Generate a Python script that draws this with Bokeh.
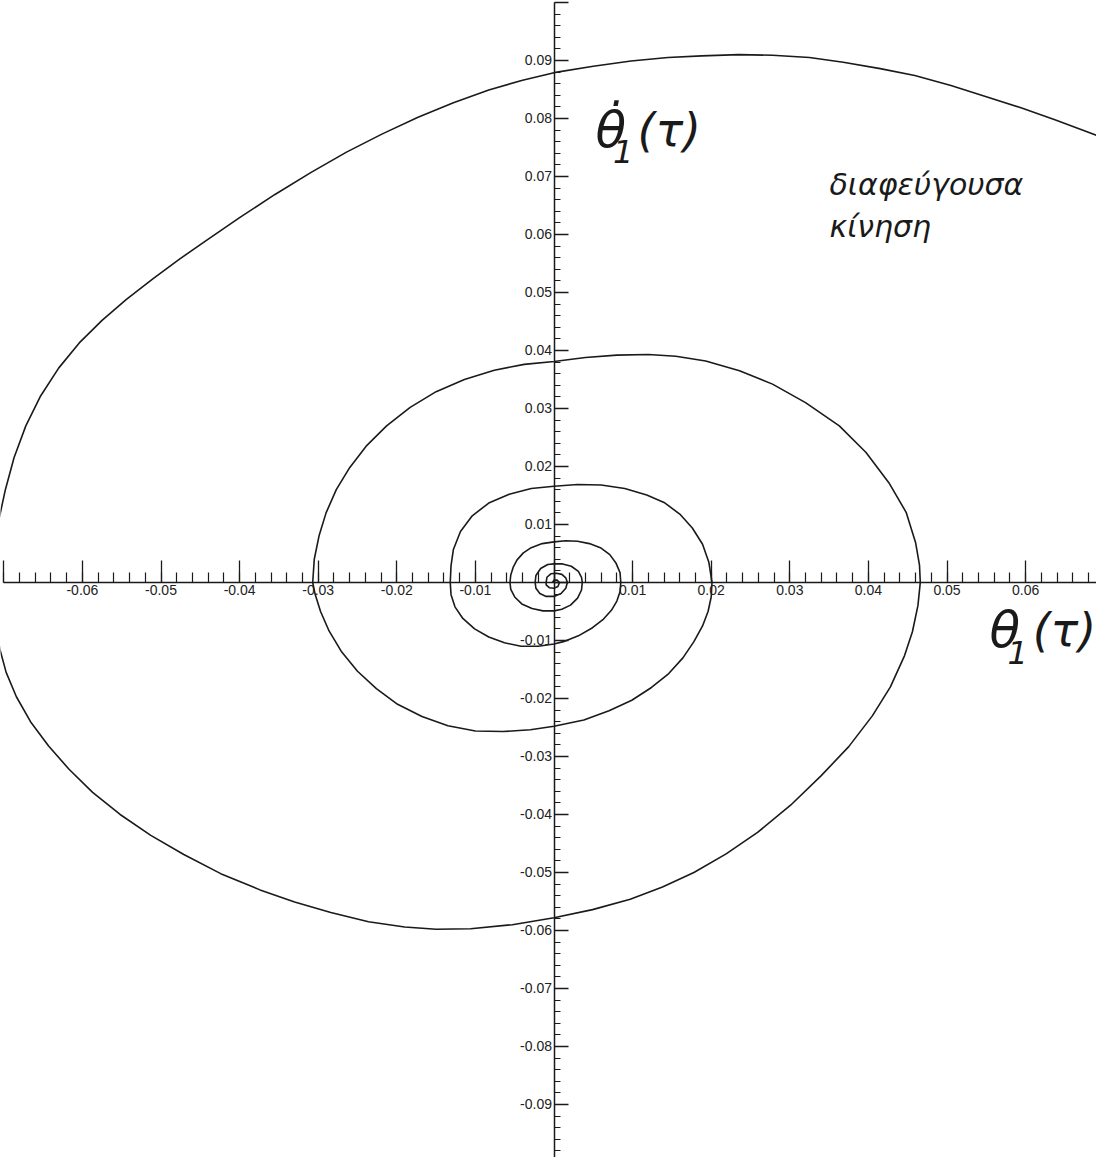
from bokeh.plotting import figure
from bokeh.models import LinearAxis, FixedTicker, CustomJSTickFormatter, Range1d, ColumnDataSource
from bokeh.core.properties import value
from bokeh.embed import file_html
from bokeh.resources import INLINE

# Phase trajectory (theta_1, d theta_1 / d tau), in time order,
# one list of (theta, theta_dot) pairs per half turn (clockwise, spiralling outward).
start = [(-0.0002, 0.0000), (0.0000, 0.0004), (0.0004, 0.0004), (0.0007, 0.0000)]
turn0_low = [(0.0005, -0.0007), (0.0000, -0.0010), (-0.0006, -0.0009), (-0.0010, -0.0004), (-0.0010, 0.0000)]
turn1_up = [(-0.0009, 0.0009), (-0.0004, 0.0015), (0.0003, 0.0016), (0.0010, 0.0014), (0.0015, 0.0008),
            (0.0017, 0.0000)]
turn1_low = [(0.0015, -0.0010), (0.0009, -0.0019), (0.0000, -0.0024), (-0.0010, -0.0024), (-0.0018, -0.0019),
             (-0.0023, -0.0010), (-0.0024, 0.0000)]
turn2_up = [(-0.0023, 0.0012), (-0.0017, 0.0024), (-0.0008, 0.0031), (0.0000, 0.0032), (0.0011, 0.0032),
            (0.0022, 0.0028), (0.0031, 0.0019), (0.0035, 0.0009), (0.0036, 0.0000)]
turn2_low = [(0.0035, -0.0013), (0.0030, -0.0027), (0.0021, -0.0039), (0.0010, -0.0046), (0.0000, -0.0049),
             (-0.0014, -0.0049), (-0.0028, -0.0045), (-0.0041, -0.0037), (-0.0050, -0.0025), (-0.0055, -0.0012),
             (-0.0056, 0.0000)]
turn3_up = [(-0.0055, 0.0013), (-0.0052, 0.0026), (-0.0047, 0.0039), (-0.0039, 0.0051), (-0.0029, 0.0060),
            (-0.0015, 0.0067), (0.0000, 0.0070), (0.0015, 0.0072), (0.0030, 0.0071), (0.0045, 0.0067),
            (0.0059, 0.0060), (0.0071, 0.0048), (0.0079, 0.0033), (0.0084, 0.0017), (0.0085, 0.0000)]
turn3_low = [(0.0084, -0.0016), (0.0080, -0.0032), (0.0073, -0.0048), (0.0063, -0.0063), (0.0049, -0.0078),
             (0.0031, -0.0092), (0.0012, -0.0102), (0.0000, -0.0106), (-0.0020, -0.0110), (-0.0042, -0.0110),
             (-0.0063, -0.0104), (-0.0083, -0.0094), (-0.0101, -0.0080), (-0.0116, -0.0062), (-0.0126, -0.0042),
             (-0.0131, -0.0021), (-0.0132, 0.0000)]
turn4_up = [(-0.0131, 0.0029), (-0.0128, 0.0057), (-0.0119, 0.0088), (-0.0104, 0.0115), (-0.0083, 0.0137),
            (-0.0057, 0.0152), (-0.0029, 0.0162), (0.0000, 0.0166), (0.0030, 0.0169), (0.0060, 0.0168),
            (0.0090, 0.0162), (0.0118, 0.0151), (0.0140, 0.0138), (0.0160, 0.0118), (0.0176, 0.0094),
            (0.0189, 0.0066), (0.0197, 0.0035), (0.0201, 0.0000)]
turn4_low = [(0.0200, -0.0025), (0.0196, -0.0050), (0.0189, -0.0075), (0.0178, -0.0102), (0.0164, -0.0130),
             (0.0146, -0.0157), (0.0124, -0.0181), (0.0099, -0.0203), (0.0070, -0.0221), (0.0038, -0.0237),
             (0.0000, -0.0248), (-0.0030, -0.0254), (-0.0065, -0.0257), (-0.0100, -0.0256), (-0.0135, -0.0247),
             (-0.0168, -0.0231), (-0.0199, -0.0210), (-0.0226, -0.0183), (-0.0250, -0.0153), (-0.0270, -0.0120),
             (-0.0286, -0.0084), (-0.0297, -0.0050), (-0.0304, -0.0020), (-0.0307, 0.0000)]
turn5_up = [(-0.0305, 0.0040), (-0.0299, 0.0080), (-0.0290, 0.0120), (-0.0277, 0.0160), (-0.0260, 0.0198),
            (-0.0239, 0.0235), (-0.0213, 0.0270), (-0.0183, 0.0302), (-0.0150, 0.0329), (-0.0114, 0.0350),
            (-0.0076, 0.0366), (-0.0038, 0.0376), (0.0000, 0.0381), (0.0040, 0.0388), (0.0080, 0.0392),
            (0.0120, 0.0393), (0.0155, 0.0390), (0.0193, 0.0382), (0.0236, 0.0365), (0.0278, 0.0342),
            (0.0320, 0.0310), (0.0363, 0.0270), (0.0397, 0.0224), (0.0426, 0.0172), (0.0448, 0.0121),
            (0.0460, 0.0069), (0.0465, 0.0030), (0.0466, 0.0000)]
turn5_low = [(0.0463, -0.0040), (0.0456, -0.0085), (0.0446, -0.0126), (0.0428, -0.0180), (0.0405, -0.0230),
             (0.0375, -0.0283), (0.0340, -0.0333), (0.0301, -0.0384), (0.0259, -0.0431), (0.0219, -0.0468),
             (0.0178, -0.0500), (0.0138, -0.0525), (0.0097, -0.0546), (0.0049, -0.0564), (0.0000, -0.0578),
             (-0.0053, -0.0590), (-0.0106, -0.0597), (-0.0150, -0.0598), (-0.0190, -0.0594), (-0.0236, -0.0585),
             (-0.0284, -0.0569), (-0.0330, -0.0551), (-0.0374, -0.0530), (-0.0424, -0.0502), (-0.0471, -0.0469),
             (-0.0513, -0.0436), (-0.0552, -0.0400), (-0.0587, -0.0362), (-0.0617, -0.0322), (-0.0643, -0.0282),
             (-0.0666, -0.0240), (-0.0684, -0.0197), (-0.0697, -0.0155), (-0.0705, -0.0115), (-0.0710, -0.0075),
             (-0.0712, -0.0035), (-0.0713, 0.0000)]
turn6_escape = [(-0.0711, 0.0060), (-0.0706, 0.0110), (-0.0698, 0.0160), (-0.0687, 0.0215), (-0.0672, 0.0270),
                (-0.0653, 0.0322), (-0.0630, 0.0370), (-0.0604, 0.0413), (-0.0575, 0.0452), (-0.0544, 0.0488),
                (-0.0510, 0.0524), (-0.0476, 0.0558), (-0.0444, 0.0588), (-0.0400, 0.0629), (-0.0355, 0.0669),
                (-0.0309, 0.0707), (-0.0264, 0.0742), (-0.0219, 0.0773), (-0.0173, 0.0802), (-0.0128, 0.0827),
                (-0.0083, 0.0849), (-0.0040, 0.0866), (0.0000, 0.0879), (0.0050, 0.0890), (0.0098, 0.0899),
                (0.0145, 0.0905), (0.0188, 0.0908), (0.0235, 0.0910), (0.0278, 0.0909), (0.0325, 0.0905),
                (0.0368, 0.0897), (0.0415, 0.0886), (0.0459, 0.0874), (0.0505, 0.0857), (0.0549, 0.0838),
                (0.0595, 0.0818), (0.0639, 0.0797), (0.0700, 0.0766), (0.0760, 0.0733)]

trajectory = (start + turn0_low + turn1_up + turn1_low + turn2_up + turn2_low + turn3_up + turn3_low
              + turn4_up + turn4_low + turn5_up + turn5_low + turn6_escape)

x_ticks = [-0.07, -0.06, -0.05, -0.04, -0.03, -0.02, -0.01, 0.0,
           0.01, 0.02, 0.03, 0.04, 0.05, 0.06, 0.07]
x_tick_labels = ["", "-0.06", "-0.05", "-0.04", "-0.03", "-0.02", "-0.01", "",
                 "0.01", "0.02", "0.03", "0.04", "0.05", "0.06", ""]
y_ticks = [-0.10, -0.09, -0.08, -0.07, -0.06, -0.05, -0.04, -0.03, -0.02, -0.01, 0.0,
           0.01, 0.02, 0.03, 0.04, 0.05, 0.06, 0.07, 0.08, 0.09, 0.10]
y_tick_labels = ["", "-0.09", "-0.08", "-0.07", "-0.06", "-0.05", "-0.04", "-0.03", "-0.02", "-0.01", "",
                 "0.01", "0.02", "0.03", "0.04", "0.05", "0.06", "0.07", "0.08", "0.09", ""]
minor_step = 0.002
x_minor = [round(-0.07 + minor_step * i, 3) for i in range(71)]
y_minor = [round(-0.10 + minor_step * i, 3) for i in range(101)]

INK = "#1a1a1a"

p = figure(width=1096, height=1157,
           x_range=Range1d(-0.07042, 0.06902), y_range=Range1d(-0.09914, 0.10034),
           x_axis_type=None, y_axis_type=None,
           output_backend="svg", toolbar_location=None,
           min_border=0, outline_line_color=None,
           background_fill_color="white", border_fill_color="white")

fmt_code = """
let best = 0, d = Infinity;
for (let i = 0; i < vals.length; i++) {
  const e = Math.abs(vals[i] - tick);
  if (e < d) { d = e; best = i; }
}
return labs[best];
"""

axis_style = dict(axis_line_color=INK, axis_line_width=1.5,
                  major_tick_line_color=INK, major_tick_line_width=1.3,
                  minor_tick_line_color=INK, minor_tick_line_width=1.2,
                  major_tick_out=0, minor_tick_out=0,
                  major_label_text_font="Liberation Sans",
                  major_label_text_font_size="14px",
                  major_label_text_color="#222222")

xaxis = LinearAxis(fixed_location=0,
                   ticker=FixedTicker(ticks=x_ticks, minor_ticks=x_minor),
                   formatter=CustomJSTickFormatter(args=dict(vals=x_ticks, labs=x_tick_labels), code=fmt_code),
                   bounds=(-0.07, 0.07), major_tick_in=22, minor_tick_in=10,
                   major_label_standoff=3, **axis_style)
p.add_layout(xaxis, "below")

yaxis = LinearAxis(fixed_location=0,
                   ticker=FixedTicker(ticks=y_ticks, minor_ticks=y_minor),
                   formatter=CustomJSTickFormatter(args=dict(vals=y_ticks, labs=y_tick_labels), code=fmt_code),
                   bounds=(-0.10, 0.10), major_tick_in=14, minor_tick_in=6,
                   major_label_standoff=2, **axis_style)
p.add_layout(yaxis, "left")

src = ColumnDataSource(data=dict(theta=[pt[0] for pt in trajectory],
                                 theta_dot=[pt[1] for pt in trajectory]))
p.line("theta", "theta_dot", source=src, line_color=INK, line_width=1.6, line_join="round")

# axis titles
big = dict(text_font=value("DejaVu Sans"), text_font_style="italic",
           text_baseline="alphabetic", text_align="left", text_color=INK)
p.text(x=[0.00528, 0.0554], y=[0.0780, -0.0082],
       text=["\u03b8\u0307", "\u03b8"], text_font_size="50px", **big)
p.text(x=[0.01062, 0.0609], y=[0.0780, -0.0082],
       text=["(\u03c4)", "(\u03c4)"], text_font_size="46px", **big)
p.text(x=[0.00750, 0.0577], y=[0.0743, -0.0120], text=["1", "1"], text_font_size="32px", **big)

# annotation
p.text(x=[0.03505, 0.03505], y=[0.0686, 0.0614],
       text=["\u03b4\u03b9\u03b1\u03c6\u03b5\u03cd\u03b3\u03bf\u03c5\u03c3\u03b1",
             "\u03ba\u03af\u03bd\u03b7\u03c3\u03b7"],
       text_font_size="30px", **big)

open("out.html", "w").write(file_html(p, INLINE))
